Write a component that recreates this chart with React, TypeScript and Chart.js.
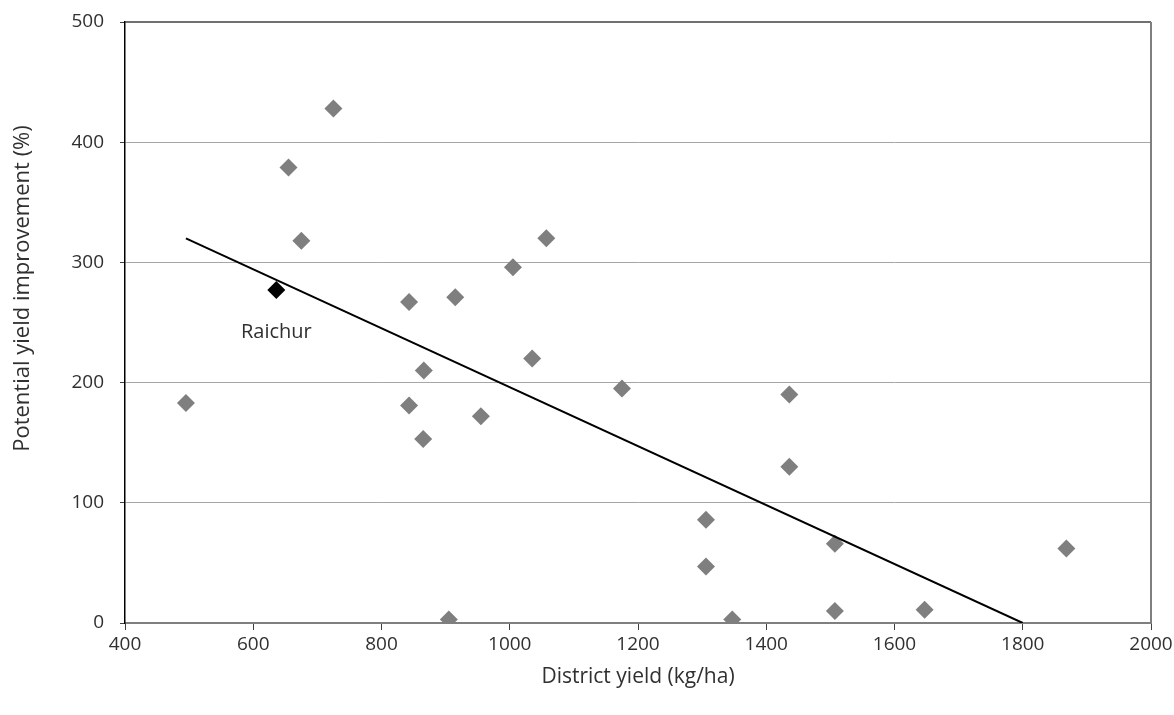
import React, { useEffect, useRef } from "react";
import { Chart, registerables } from "chart.js";

Chart.register(...registerables);

const districtYield: number[] = [495, 655, 725, 675, 843, 915, 866, 843, 865, 955, 1005, 1057, 1035, 1175, 905, 1306, 1306, 1347, 1436, 1436, 1507, 1507, 1647, 1868];
const yieldImprovement: number[] = [183, 379, 428, 318, 267, 271, 210, 181, 153, 172, 296, 320, 220, 195, 3, 86, 47, 3, 190, 130, 66, 10, 11, 62];
const raichurX: number[] = [636];
const raichurY: number[] = [277];
const raichurLabel = "Raichur";
const trendX: number[] = [495, 1800];
const trendY: number[] = [320, 0];
const xTicks: number[] = [400, 600, 800, 1000, 1200, 1400, 1600, 1800, 2000];
const yTicks: number[] = [0, 100, 200, 300, 400, 500];
const xTitle = "District yield (kg/ha)";
const yTitle = "Potential yield improvement (%)";

const FONT = "'Open Sans', 'Noto Sans', sans-serif";
const TEXT = "#303030";

const frameAndLabel = {
  id: "frameAndLabel",
  afterDatasetsDraw(chart: any) {
    const { ctx, chartArea, scales } = chart;
    ctx.save();
    // top border
    ctx.strokeStyle = "#404040";
    ctx.lineWidth = 1.5;
    ctx.beginPath();
    ctx.moveTo(chartArea.left, chartArea.top);
    ctx.lineTo(chartArea.right, chartArea.top);
    ctx.stroke();
    // right border
    ctx.strokeStyle = "#7f7f7f";
    ctx.lineWidth = 2;
    ctx.beginPath();
    ctx.moveTo(chartArea.right, chartArea.top);
    ctx.lineTo(chartArea.right, chartArea.bottom);
    ctx.stroke();
    // Raichur label
    const px = scales.x.getPixelForValue(raichurX[0]);
    const py = scales.y.getPixelForValue(raichurY[0]);
    ctx.fillStyle = TEXT;
    ctx.font = `20px ${FONT}`;
    ctx.textAlign = "center";
    ctx.textBaseline = "middle";
    ctx.fillText(raichurLabel, px, py + 42);
    // y title
    ctx.translate(23, chartArea.top + (chartArea.bottom - chartArea.top) / 2 - 34);
    ctx.rotate(-Math.PI / 2);
    ctx.font = `22px ${FONT}`;
    ctx.fillText(yTitle, 0, 0);
    ctx.restore();
  },
};

export default function App() {
  const ref = useRef<HTMLCanvasElement | null>(null);
  useEffect(() => {
    document.body.style.margin = "0";
    if (!ref.current) return;
    const chart = new Chart(ref.current, {
      type: "scatter",
      data: {
        datasets: [
          {
            label: "Trend",
            type: "line",
            data: trendX.map((x, i) => ({ x, y: trendY[i] })),
            borderColor: "#000",
            borderWidth: 2,
            pointRadius: 0,
            fill: false,
            order: 1,
          } as any,
          {
            label: "Districts",
            data: districtYield.map((x, i) => ({ x, y: yieldImprovement[i] })),
            pointStyle: "rectRot",
            pointRadius: 9,
            backgroundColor: "#7f7f7f",
            borderWidth: 0,
            order: 2,
          },
          {
            label: raichurLabel,
            data: raichurX.map((x, i) => ({ x, y: raichurY[i] })),
            pointStyle: "rectRot",
            pointRadius: 9,
            backgroundColor: "#000",
            borderWidth: 0,
            order: 0,
          },
        ],
      },
      options: {
        animation: false,
        responsive: false,
        maintainAspectRatio: false,
        layout: { padding: { top: 22, right: 23, left: 0, bottom: 0 } },
        plugins: {
          legend: { display: false },
          tooltip: { enabled: false },
        },
        scales: {
          x: {
            type: "linear",
            min: 400,
            max: 2000,
            afterBuildTicks: (axis: any) => {
              axis.ticks = xTicks.map((v) => ({ value: v }));
            },
            afterFit: (axis: any) => {
              axis.height = 92;
              axis.paddingLeft = 0;
              axis.paddingRight = 0;
            },
            ticks: {
              color: TEXT,
              font: { family: FONT, size: 19 },
              padding: 3,
              callback: (v: any) => String(v),
            },
            grid: {
              drawOnChartArea: false,
              drawTicks: true,
              tickLength: 7,
              tickColor: "#404040",
            },
            border: { display: true, color: "#7f7f7f", width: 2 },
            title: {
              display: true,
              text: xTitle,
              color: TEXT,
              font: { family: FONT, size: 21 },
              padding: { top: 0, bottom: 25 },
            },
          },
          y: {
            type: "linear",
            min: 0,
            max: 500,
            afterBuildTicks: (axis: any) => {
              axis.ticks = yTicks.map((v) => ({ value: v }));
            },
            afterFit: (axis: any) => {
              axis.width = 125;
              axis.paddingTop = 0;
              axis.paddingBottom = 0;
            },
            ticks: {
              color: TEXT,
              font: { family: FONT, size: 19 },
              padding: 16,
              callback: (v: any) => String(v),
            },
            grid: {
              color: (c: any) => (c.tick && (c.tick.value === 0 || c.tick.value === 500) ? "rgba(0,0,0,0)" : "#a6a6a6"),
              lineWidth: 1,
              drawTicks: true,
              tickLength: 5,
              tickColor: "#404040",
            },
            border: { display: true, color: "#000", width: 1.5 },
            title: { display: false },
          },
        },
      },
      plugins: [frameAndLabel],
    });
    return () => chart.destroy();
  }, []);
  return (
    <div style={{ width: 1174, height: 715 }}>
      <canvas ref={ref} width={1174} height={715} style={{ width: 1174, height: 715, display: "block" }} />
    </div>
  );
}
